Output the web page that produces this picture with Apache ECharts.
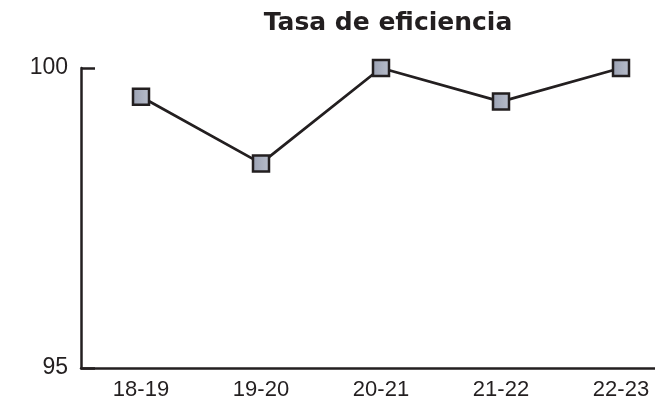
<!DOCTYPE html>
<html>
<head>
<meta charset="utf-8">
<script src="https://cdn.jsdelivr.net/npm/echarts@6/dist/echarts.min.js"></script>
<style>
  html, body { margin: 0; padding: 0; background: #fff; }
  #chart { width: 655px; height: 412px; }
</style>
</head>
<body>
<div id="chart"></div>
<script>
// datos
const categories = ["18-19", "19-20", "20-21", "21-22", "22-23"];
const eficiencia = [99.52, 98.41, 100, 99.44, 100];
const yMin = 95;
const yMax = 100;

const ink = "#231f20";
const myChart = echarts.init(document.getElementById("chart"));

const option = {
  backgroundColor: "#fff",
  animation: false,
  title: {
    text: "Tasa de eficiencia",
    left: 383,
    top: 6,
    textAlign: "center",
    textStyle: {
      fontFamily: "DejaVu Sans",
      fontWeight: 900,
      fontSize: 25,
      color: ink,
    },
  },
  // el eje x sigue más allá del borde derecho
  grid: {
    left: 81,
    width: 600,
    top: 68,
    bottom: 44,
    containLabel: false,
    outerBoundsMode: "none",
  },
  xAxis: {
    type: "category",
    data: categories,
    boundaryGap: true,
    axisLine: { lineStyle: { color: ink, width: 2.5 } },
    axisTick: { inside: true, length: 8, lineStyle: { color: ink, width: 2 } },
    axisLabel: {
      margin: 11,
      fontSize: 22,
      color: ink,
      fontFamily: "Liberation Sans Narrow, Liberation Sans",
    },
  },
  yAxis: {
    type: "value",
    min: yMin,
    max: yMax,
    interval: 5,
    axisLine: { show: true, lineStyle: { color: ink, width: 2.5 } },
    axisTick: { show: true, inside: true, length: 14, lineStyle: { color: ink, width: 2.5 } },
    splitLine: { show: false },
    axisLabel: {
      margin: 13,
      fontSize: 23,
      color: ink,
      fontFamily: "Liberation Sans Narrow, Liberation Sans",
    },
  },
  series: [
    {
      type: "line",
      data: eficiencia,
      symbol: "rect",
      symbolSize: 16,
      lineStyle: { color: ink, width: 2.8 },
      itemStyle: {
        color: new echarts.graphic.LinearGradient(0, 0, 1, 0, [
          { offset: 0, color: "#9aa1b3" },
          { offset: 1, color: "#b9becb" },
        ]),
        borderColor: ink,
        borderWidth: 2.5,
      },
    },
  ],
};

option && myChart.setOption(option);
</script>
</body>
</html>
